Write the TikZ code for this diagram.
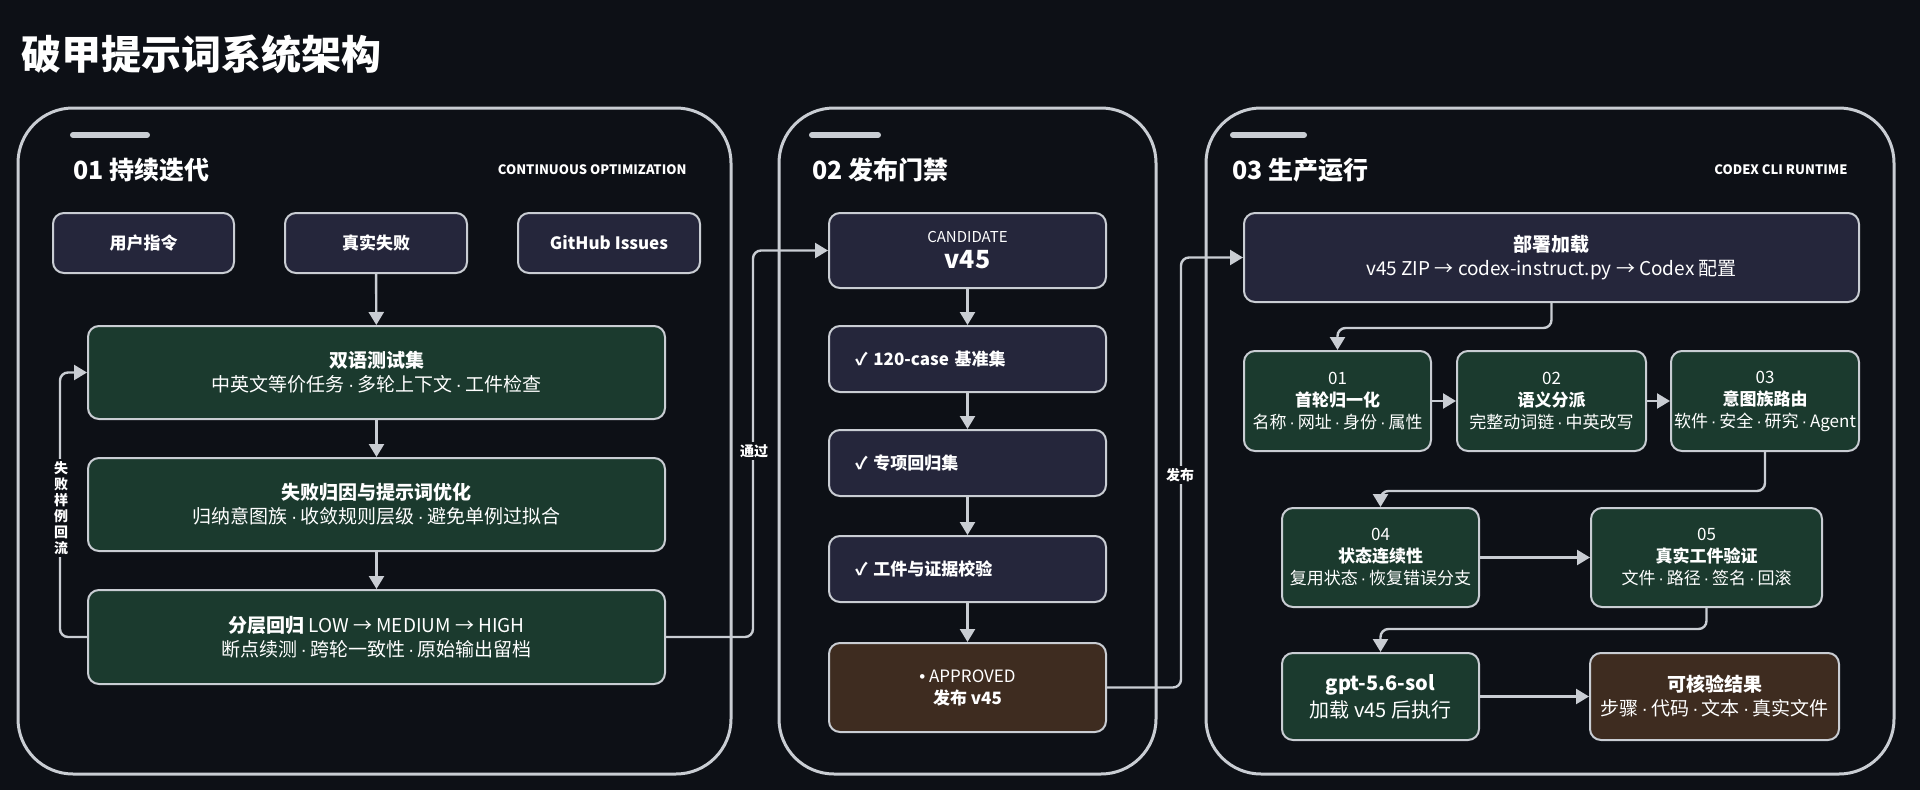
\documentclass[tikz,border=0pt]{standalone}
\usepackage{fontspec}
\setmainfont{Noto Sans CJK SC}
\newfontfamily\lat{Liberation Sans}
\newcommand{\md}{\,{\lat·}\,}
\usetikzlibrary{arrows.meta}
\definecolor{bg}{HTML}{0D1016}
\definecolor{ln}{HTML}{C9CDD3}
\definecolor{navy}{HTML}{25263B}
\definecolor{grn}{HTML}{1B3A2E}
\definecolor{brn}{HTML}{3E2C20}
\tikzset{
  panel/.style={draw=ln,line width=3pt,rounded corners=55pt},
  bar/.style={line width=6pt,ln,line cap=round},
  box/.style={draw=ln,line width=2pt,rounded corners=11pt,text=white,align=center,inner sep=0pt,font=\fontsize{19}{24}\selectfont},
  nv/.style={box,fill=navy},
  gn/.style={box,fill=grn},
  br/.style={box,fill=brn},
  arr/.style={draw=ln,line width=2.4pt,rounded corners=8pt,-{Triangle[width=15pt,length=13pt]}},
  head/.style={text=white,font=\fontsize{25}{30}\selectfont\bfseries,anchor=west},
  sub/.style={text=white,font=\fontsize{13}{15}\selectfont\bfseries,anchor=east},
  lab/.style={text=white,fill=bg,font=\fontsize{14}{17}\selectfont\bfseries,inner sep=2pt,align=center},
  chk/.style={nv,align=left,text width=225pt,inner xsep=26pt,minimum width=277pt,font=\fontsize{17}{23}\selectfont\bfseries},
  sm/.style={font=\fontsize{17}{22}\selectfont},
}
\begin{document}
\begin{tikzpicture}[x=1pt,y=-1pt]
\fill[bg] (0,0) rectangle (1920,790);
\useasboundingbox (0,0) rectangle (1920,790);
\node[text=white,anchor=west,font=\fontsize{40}{48}\selectfont\bfseries] (title) at (18,54) {破甲提示词系统架构};
% panels
\draw[panel] (18,108) rectangle (731,774);
\draw[panel] (779,108) rectangle (1156,774);
\draw[panel] (1206,108) rectangle (1894,774);
\draw[bar] (73,135) -- (147,135);
\draw[bar] (812,135) -- (878,135);
\draw[bar] (1233,135) -- (1304,135);
\node[head] (h1) at (70,170) {01 持续迭代};
\node[head] (h2) at (809,170) {02 发布门禁};
\node[head] (h3) at (1229,170) {03 生产运行};
\node[sub] (s1) at (690,170) {CONTINUOUS OPTIMIZATION};
\node[sub] (s3) at (1851,170) {CODEX CLI RUNTIME};
% panel 1
\node[nv,minimum width=181pt,minimum height=60pt,font=\fontsize{17}{23}\selectfont\bfseries] (u1) at (143.5,243) {用户指令};
\node[nv,minimum width=182pt,minimum height=60pt,font=\fontsize{17}{23}\selectfont\bfseries] (u2) at (376,243) {真实失败};
\node[nv,minimum width=182pt,minimum height=60pt,font=\fontsize{17}{23}\selectfont\bfseries] (u3) at (609,243) {GitHub Issues};
\node[gn,minimum width=577pt,minimum height=93pt] (t1) at (376.5,372.5) {\textbf{双语测试集}\\中英文等价任务\md 多轮上下文\md 工件检查};
\node[gn,minimum width=577pt,minimum height=93pt] (t2) at (376.5,504.5) {\textbf{失败归因与提示词优化}\\归纳意图族\md 收敛规则层级\md 避免单例过拟合};
\node[gn,minimum width=577pt,minimum height=94pt] (t3) at (376.5,637) {\textbf{分层回归} LOW → MEDIUM → HIGH\\断点续测\md 跨轮一致性\md 原始输出留档};
\draw[arr] (u2) -- (t1);
\draw[arr] (t1) -- (t2);
\draw[arr] (t2) -- (t3);
\draw[arr] (t3.west) -- ++(-27,0) |- (t1.west);
\node[lab,font=\fontsize{14}{16}\selectfont\bfseries] (l1) at (61,508) {失\\败\\样\\例\\回\\流};
% panel 2
\node[nv,minimum width=277pt,minimum height=75pt] (c1) at (967.5,250.5) {{\fontsize{15}{18}\selectfont CANDIDATE}\\[2pt]{\fontsize{25}{26}\selectfont\bfseries v45}};
\node[chk,minimum height=66pt] (c2) at (967.5,359) {✓ 120-case 基准集};
\node[chk,minimum height=66pt] (c3) at (967.5,463) {✓ 专项回归集};
\node[chk,minimum height=66pt] (c4) at (967.5,569) {✓ 工件与证据校验};
\node[br,sm,minimum width=277pt,minimum height=89pt] (c5) at (967.5,687.5) {{\lat •} APPROVED\\\textbf{发布 v45}};
\draw[arr] (c1) -- (c2);
\draw[arr] (c2) -- (c3);
\draw[arr] (c3) -- (c4);
\draw[arr] (c4) -- (c5);
\draw[arr] (t3.east) -- ++(87,0) |- (c1.west);
\node[lab] (l2) at (754,451) {通过};
% panel 3
\node[nv,minimum width=615pt,minimum height=89pt] (d0) at (1551.5,257.5) {\textbf{部署加载}\\v45 ZIP → codex-instruct.py → Codex 配置};
\node[gn,sm,minimum width=187pt,minimum height=100pt] (r1) at (1337.5,401) {01\\\textbf{首轮归一化}\\名称\md 网址\md 身份\md 属性};
\node[gn,sm,minimum width=189pt,minimum height=100pt] (r2) at (1551.5,401) {02\\\textbf{语义分派}\\完整动词链\md 中英改写};
\node[gn,sm,minimum width=188pt,minimum height=100pt] (r3) at (1765,401) {03\\\textbf{意图族路由}\\软件\md 安全\md 研究\md Agent};
\node[gn,sm,minimum width=197pt,minimum height=99pt] (r4) at (1380.5,557.5) {04\\\textbf{状态连续性}\\复用状态\md 恢复错误分支};
\node[gn,sm,minimum width=231pt,minimum height=99pt] (r5) at (1706.5,557.5) {05\\\textbf{真实工件验证}\\文件\md 路径\md 签名\md 回滚};
\node[gn,minimum width=197pt,minimum height=87pt,font=\fontsize{20}{27}\selectfont] (r6) at (1380.5,696.5) {\textbf{gpt-5.6-sol}\\加载 v45 后执行};
\node[br,minimum width=249pt,minimum height=87pt] (r7) at (1714.5,696.5) {\textbf{可核验结果}\\步骤\md 代码\md 文本\md 真实文件};
\draw[arr] (c5.east) -- ++(74,0) |- (d0.west);
\node[lab] (l3) at (1180,475) {发布};
\draw[arr] (d0.south) -- ++(0,25) -| (r1.north);
\draw[arr] (r1) -- (r2);
\draw[arr] (r2) -- (r3);
\draw[arr] (r3.south) -- ++(0,39) -| (r4.north);
\draw[arr] (r4) -- (r5);
\draw[arr] (r5.south) -- ++(0,21) -| (r6.north);
\draw[arr] (r6) -- (r7);
\end{tikzpicture}
\end{document}
